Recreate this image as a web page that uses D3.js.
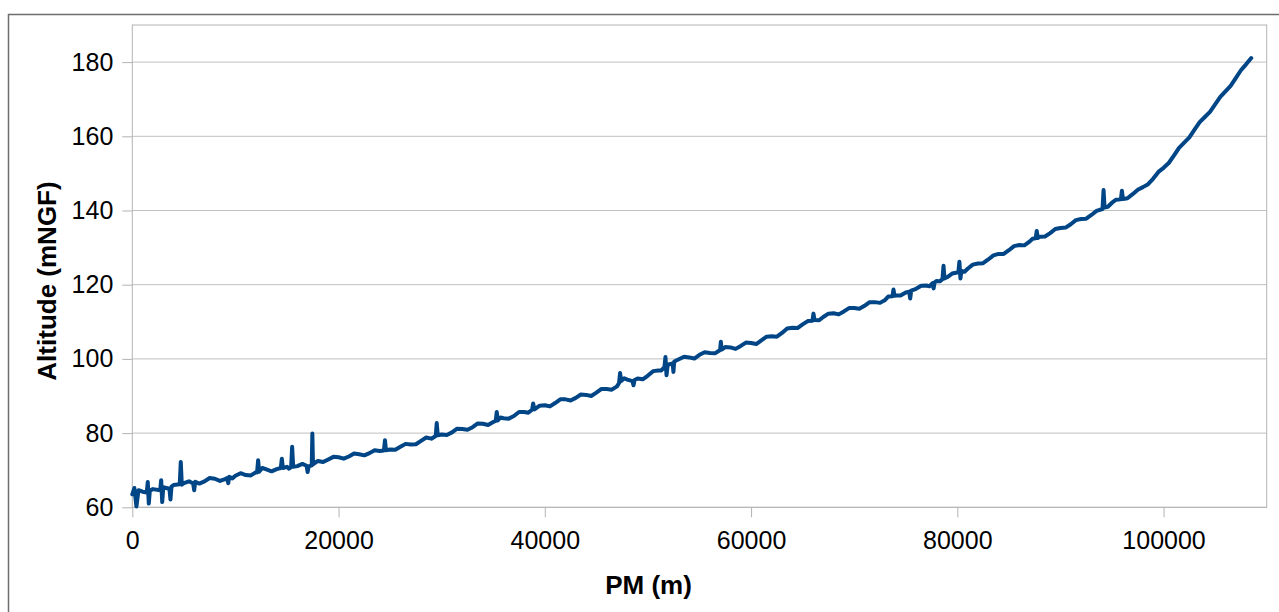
<!DOCTYPE html>
<html>
<head>
<meta charset="utf-8">
<script src="https://cdn.jsdelivr.net/npm/d3@7/dist/d3.min.js"></script>
<style>
  html, body { margin: 0; padding: 0; background: #fff; }
  svg { display: block; font-family: "Liberation Sans", Arial, sans-serif; }
</style>
</head>
<body>
<svg id="chart" width="1279" height="612"></svg>
<script>
// PM (m) and altitude (mNGF) (main profile + spikes)
const pm = [
  0, 200, 400, 600, 1000, 1400, 1500, 1600, 1700, 2000,
  2700, 2800, 2900, 3000, 3600, 3700, 3800, 4000, 4600, 4700,
  4800, 5000, 5900, 6000, 6100, 7000, 8000, 9000, 9200, 9300,
  9400, 10000, 11000, 12000, 12100, 12200, 12300, 13000, 14000, 14400,
  14500, 14600, 15000, 15400, 15500, 15600, 16000, 16900, 17000, 17100,
  17400, 17460, 17520, 18000, 19000, 20000, 21000, 22000, 23000, 24000,
  24400, 24500, 24600, 25000, 26000, 27000, 28000, 29000, 29420, 29520,
  29620, 30000, 31000, 32000, 33000, 34000, 35000, 35240, 35340, 35440,
  36000, 37000, 38000, 38770, 38870, 38970, 39000, 40000, 41000, 42000,
  43000, 44000, 45000, 46000, 47000, 47200, 47300, 47400, 48000, 48500,
  48600, 48700, 49000, 50000, 51000, 51600, 51700, 51800, 51900, 52000,
  52400, 52470, 52550, 53000, 54000, 55000, 56000, 57000, 57070, 57150,
  58000, 59000, 60000, 61000, 62000, 63000, 64000, 65000, 65950, 66050,
  66150, 67000, 68000, 69000, 70000, 71000, 72000, 73000, 73710, 73810,
  73910, 74000, 75000, 75330, 75430, 75530, 76000, 77000, 77600, 77700,
  77800, 78000, 78560, 78660, 78760, 79000, 80000, 80100, 80200, 80300,
  80400, 81000, 82000, 83000, 84000, 85000, 86000, 87000, 87600, 87700,
  87800, 88000, 89000, 90000, 91000, 92000, 93000, 94080, 94180, 94280,
  95000, 95860, 95960, 96060, 97000, 98000, 99000, 100000, 101000, 102000,
  103000, 104000, 105000, 106000, 107000, 108000, 108500
];
const altitude = [
  63.5, 65.2, 60.2, 64.6, 64.2, 64.0, 66.8, 61.0, 64.5, 64.9,
  64.6, 67.3, 61.4, 65.4, 65.0, 62.1, 65.6, 66.0, 66.2, 72.2,
  66.1, 66.5, 66.4, 64.6, 66.9, 67.0, 67.7, 67.6, 67.9, 66.5,
  68.2, 68.5, 68.7, 69.5, 69.4, 72.7, 69.6, 70.2, 70.3, 70.6,
  73.1, 70.6, 70.9, 70.8, 76.3, 70.9, 71.1, 71.2, 69.5, 71.0,
  71.3, 79.9, 71.6, 72.5, 72.9, 73.5, 73.7, 74.3, 74.6, 75.2,
  75.3, 78.1, 75.4, 75.6, 76.3, 76.9, 77.9, 78.5, 79.2, 82.7,
  79.4, 79.6, 80.2, 81.1, 81.6, 82.5, 83.0, 83.3, 85.7, 83.4,
  84.0, 84.6, 85.7, 86.3, 88.0, 86.5, 86.4, 87.5, 88.1, 89.1,
  89.5, 90.3, 90.9, 91.9, 92.6, 93.5, 96.2, 94.0, 94.4, 94.0,
  92.9, 94.3, 94.7, 95.5, 96.9, 97.8, 100.5, 95.6, 98.0, 98.5,
  98.8, 96.5, 99.3, 99.9, 100.4, 101.1, 101.6, 102.4, 104.6, 102.5,
  103.1, 103.5, 104.3, 105.0, 106.1, 107.0, 108.4, 109.3, 110.3, 112.2,
  110.5, 111.3, 112.3, 112.8, 113.7, 114.3, 115.3, 115.9, 116.9, 118.7,
  117.0, 117.1, 117.9, 118.1, 116.3, 118.4, 118.9, 119.8, 120.4, 119.0,
  120.6, 121.0, 121.5, 125.1, 121.7, 122.0, 123.3, 123.4, 126.2, 121.7,
  123.7, 124.3, 125.7, 126.8, 128.3, 129.3, 130.7, 131.6, 132.5, 134.5,
  132.6, 132.9, 133.9, 135.3, 136.3, 137.7, 138.8, 140.4, 145.5, 140.8,
  142.1, 143.0, 145.3, 143.1, 144.4, 146.3, 148.6, 151.5, 154.8, 158.3,
  161.8, 165.2, 168.6, 172.1, 175.7, 179.4, 181.1
];
// in-between readings (small jitter of the measured profile)
const pmDetail = [
  5500, 6500, 7500, 8500, 9700, 10500, 11500, 12600, 13500, 15200,
  16500, 18500, 19500, 20500, 21500, 22500, 23500, 25500, 26500, 27500,
  28500, 30500, 31500, 32500, 33500, 34500, 35700, 36500, 37500, 38400,
  39500, 40500, 41500, 42500, 43500, 44500, 45500, 46500, 47700, 49500,
  50500, 51300, 53500, 54500, 55500, 56500, 57500, 58500, 59500, 60500,
  61500, 62500, 63500, 64500, 65500, 66600, 67500, 68500, 69500, 70500,
  71500, 72500, 73300, 74500, 76500, 77300, 78300, 79500, 80700, 81500,
  82500, 83500, 84500, 85500, 86500, 87300, 88500, 89500, 90500, 91500,
  92500, 93500, 94600, 95400, 96500, 97500, 98500, 99500, 100500, 101500,
  102500, 103500, 104500, 105500, 106500, 107500
];
const altDetail = [
  67.0, 66.4, 67.9, 67.1, 67.8, 69.2, 68.6, 70.6, 69.7, 70.4,
  71.7, 72.2, 73.6, 73.1, 74.5, 74.0, 75.4, 75.5, 77.1, 77.0,
  78.8, 79.5, 81.2, 80.9, 82.6, 82.2, 84.2, 83.9, 85.7, 85.5,
  87.4, 87.2, 89.1, 88.8, 90.4, 90.0, 91.9, 91.7, 94.8, 94.5,
  96.7, 96.9, 100.6, 100.1, 101.8, 101.5, 103.2, 102.7, 104.4, 104.0,
  106.0, 106.0, 108.2, 108.3, 110.2, 110.4, 112.2, 112.0, 113.7, 113.5,
  115.3, 115.1, 116.8, 117.1, 119.7, 119.6, 120.9, 123.0, 123.5, 125.4,
  125.8, 127.9, 128.3, 130.4, 130.6, 132.4, 133.0, 135.0, 135.4, 137.4,
  137.8, 139.9, 141.0, 142.9, 143.3, 145.6, 147.1, 150.4, 152.8, 156.9,
  159.7, 163.8, 166.6, 170.6, 173.6, 177.8
];
const xTicks = [0, 20000, 40000, 60000, 80000, 100000];
const yTicks = [60, 80, 100, 120, 140, 160, 180];
const xTitle = "PM (m)";
const yTitle = "Altitude (mNGF)";

(function () {
  const data = pm.map((d, i) => ({ x: d, y: altitude[i] }))
    .concat(pmDetail.map((d, i) => ({ x: d, y: altDetail[i] })))
    .sort((a, b) => a.x - b.x);

  const svg = d3.select("#chart");
  const pLeft = 132.3, pRight = 1266.7, pTop = 25, pBottom = 507.3;

  // outer frame
  svg.append("rect")
    .attr("x", 8.5).attr("y", 14.5)
    .attr("width", 1400).attr("height", 800)
    .attr("fill", "none").attr("stroke", "#6e6e6e").attr("stroke-width", 1.5);

  const x = d3.scaleLinear().domain([0, 110000]).range([pLeft, pRight]);
  const y = d3.scaleLinear().domain([60, 190]).range([pBottom, pTop]);

  // grid lines
  svg.append("g").selectAll("line").data(yTicks).join("line")
    .attr("x1", pLeft).attr("x2", pRight)
    .attr("y1", d => y(d)).attr("y2", d => y(d))
    .attr("stroke", "#c0c0c0").attr("stroke-width", 1);

  // plot frame
  svg.append("rect")
    .attr("x", pLeft).attr("y", pTop)
    .attr("width", pRight - pLeft).attr("height", pBottom - pTop)
    .attr("fill", "none").attr("stroke", "#b3b3b3").attr("stroke-width", 1);

  // axes
  const xAxis = d3.axisBottom(x).tickValues(xTicks).tickFormat(d3.format("d"))
    .tickSizeInner(10).tickSizeOuter(0).tickPadding(14);
  const gx = svg.append("g").attr("transform", `translate(0,${pBottom})`).call(xAxis);
  gx.select(".domain").remove();
  gx.selectAll(".tick line").attr("stroke", "#b3b3b3");
  gx.selectAll(".tick text").attr("font-size", 25).attr("fill", "#000")
    .attr("font-family", "Liberation Sans, Arial, sans-serif");

  const yAxis = d3.axisLeft(y).tickValues(yTicks).tickFormat(d3.format("d"))
    .tickSizeInner(10).tickSizeOuter(0).tickPadding(9);
  const gy = svg.append("g").attr("transform", `translate(${pLeft},0)`).call(yAxis);
  gy.select(".domain").remove();
  gy.selectAll(".tick line").attr("stroke", "#b3b3b3");
  gy.selectAll(".tick text").attr("font-size", 25).attr("fill", "#000")
    .attr("font-family", "Liberation Sans, Arial, sans-serif");

  // line
  const line = d3.line().x(d => x(d.x)).y(d => y(d.y));
  svg.append("path").datum(data)
    .attr("d", line)
    .attr("fill", "none")
    .attr("stroke", "#004586")
    .attr("stroke-width", 4)
    .attr("stroke-linejoin", "round")
    .attr("stroke-linecap", "round");

  // titles
  svg.append("text").text(xTitle)
    .attr("x", 648.5).attr("y", 594)
    .attr("text-anchor", "middle")
    .attr("font-size", 26).attr("font-weight", "bold").attr("fill", "#000");

  svg.append("text").text(yTitle)
    .attr("transform", "translate(56,281) rotate(-90)")
    .attr("text-anchor", "middle")
    .attr("font-size", 26).attr("font-weight", "bold").attr("fill", "#000");
})();
</script>
</body>
</html>
